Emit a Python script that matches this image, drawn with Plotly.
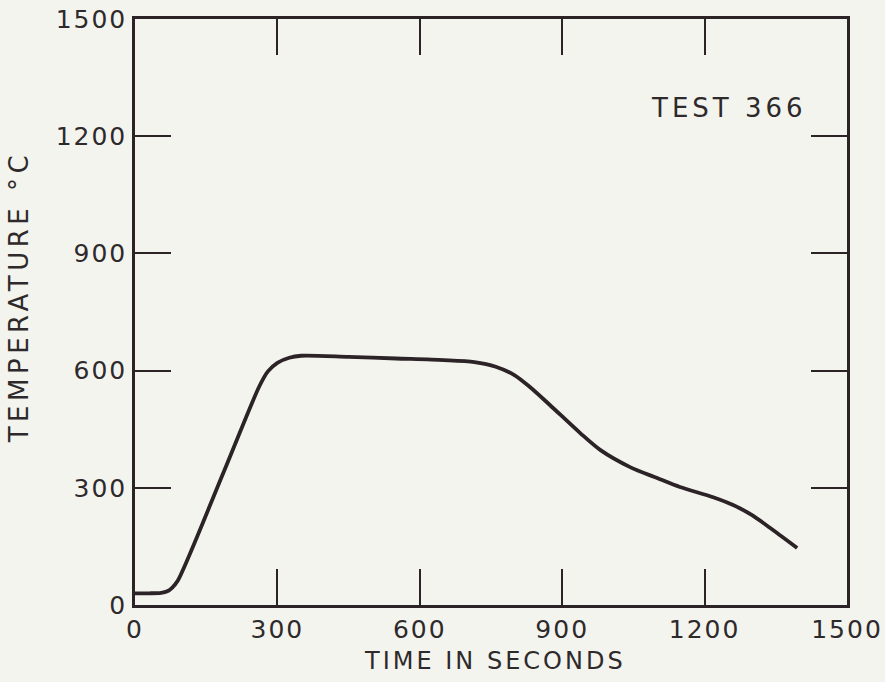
import plotly.graph_objects as go

time_s = [0, 30, 55, 68, 78, 90, 186, 262, 280, 300, 325, 350, 450, 550, 650, 715, 760, 800, 832, 874, 938, 980, 1043, 1100, 1148, 1218, 1260, 1300, 1344, 1395]
temp_c = [30, 30, 31, 35, 44, 62, 338, 560, 598, 620, 633, 638, 635, 631, 627, 622, 610, 588, 558, 512, 440, 397, 353, 325, 302, 276, 256, 230, 192, 146]
x_ticks = [0, 300, 600, 900, 1200, 1500]
y_ticks = [0, 300, 600, 900, 1200, 1500]

ink = "#2b2326"
bg = "#f4f4ef"
tick_font = dict(family="DejaVu Sans", size=25, color="#2e2a2b")
title_font = dict(family="DejaVu Sans", size=24, color="#2e2a2b")


def spaced(s, px):
    return '<span style="letter-spacing:%gpx">%s</span>' % (px, s)


fig = go.Figure()
fig.add_trace(go.Scatter(x=time_s, y=temp_c, mode="lines",
                         line=dict(color=ink, width=3.8, shape="spline", smoothing=0.8),
                         showlegend=False, hoverinfo="skip"))

axis_common = dict(showgrid=False, zeroline=False, showline=True, linecolor=ink, linewidth=2.5,
                   mirror="ticks", ticks="inside", ticklen=36, tickwidth=2, tickcolor=ink,
                   tickfont=tick_font, automargin=False)
fig.update_xaxes(range=[0, 1500], tickvals=x_ticks,
                 ticktext=[spaced(str(v), 2) for v in x_ticks], **axis_common)
fig.update_yaxes(range=[0, 1500], tickvals=y_ticks, ticklabelstandoff=0,
                 ticktext=[spaced(str(v), 2) for v in y_ticks], **axis_common)

fig.add_annotation(text=spaced("TIME IN SECONDS", 3), xref="paper", yref="paper", x=0.505, y=-0.095,
                   showarrow=False, xanchor="center", yanchor="middle", font=title_font)
fig.add_annotation(text=spaced("TEMPERATURE °C", 4.5), xref="paper", yref="paper", x=-0.163, y=0.525,
                   showarrow=False, textangle=-90, xanchor="center", yanchor="middle",
                   font=dict(family="DejaVu Sans", size=26, color="#2e2a2b"))
fig.add_annotation(text=spaced("TEST 366", 4), xref="x", yref="y", x=1252, y=1272,
                   showarrow=False, xanchor="center", yanchor="middle",
                   font=dict(family="DejaVu Sans", size=26, color="#2e2a2b"))

fig.update_layout(width=885, height=682, margin=dict(l=135, r=38, t=19, b=77),
                  paper_bgcolor=bg, plot_bgcolor=bg)
fig.write_html("out.html")
